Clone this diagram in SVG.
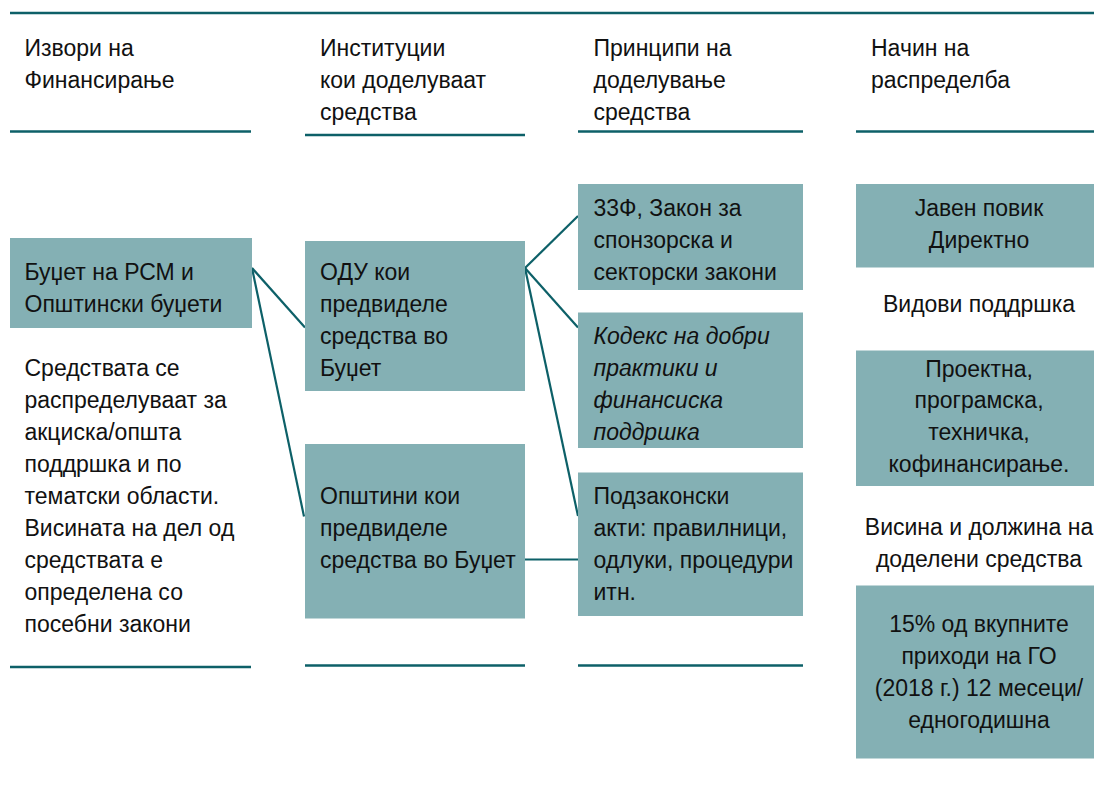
<svg xmlns="http://www.w3.org/2000/svg" width="1094" height="789" viewBox="0 0 1094 789">
<style>
  .rule { stroke: #0d6068; stroke-width: 2.5; fill: none; }
  .box { fill: #84b0b4; }
  .con { stroke: #0d6068; stroke-width: 2.2; fill: none; }
  text { font-family: "Liberation Sans", Arial, sans-serif; font-size: 23px; fill: #111; }
  .c { text-anchor: middle; }
  .i { font-style: italic; }
</style>
<rect width="1094" height="789" fill="#ffffff"/>
<g id="rules">
  <line class="rule" x1="10" y1="13" x2="1094" y2="13"/>
  <line class="rule" x1="10" y1="131.5" x2="251" y2="131.5"/>
  <line class="rule" x1="305" y1="135" x2="525" y2="135"/>
  <line class="rule" x1="578" y1="131.5" x2="803" y2="131.5"/>
  <line class="rule" x1="856" y1="131.5" x2="1094" y2="131.5"/>
  <line class="rule" x1="10" y1="667" x2="251" y2="667"/>
  <line class="rule" x1="305" y1="665.5" x2="525" y2="665.5"/>
  <line class="rule" x1="578" y1="665.5" x2="803" y2="665.5"/>
</g>
<g id="headers">
  <text x="24.5" y="56">Извори на</text>
  <text x="24.5" y="88">Финансирање</text>
  <text x="320" y="56">Институции</text>
  <text x="320" y="88">кои доделуваат</text>
  <text x="320" y="120">средства</text>
  <text x="593.5" y="56">Принципи на</text>
  <text x="593.5" y="88">доделување</text>
  <text x="593.5" y="120">средства</text>
  <text x="871" y="56">Начин на</text>
  <text x="871" y="88">распределба</text>
</g>
<g id="connectors">
  <line class="con" x1="252" y1="268" x2="305" y2="327.5"/>
  <line class="con" x1="252" y1="268" x2="304" y2="516.5"/>
  <line class="con" x1="525" y1="268" x2="578" y2="216"/>
  <line class="con" x1="525" y1="268" x2="578" y2="327.5"/>
  <line class="con" x1="525" y1="268" x2="578" y2="516"/>
  <line class="con" x1="525" y1="559.5" x2="578" y2="559.5"/>
</g>
<g id="budget">
  <rect class="box" x="10" y="238" width="242" height="90"/>
  <text x="24.5" y="280">Буџет на РСМ и</text>
  <text x="24.5" y="312">Општински буџети</text>
</g>
<g id="budget-note">
  <text x="24.5" y="376">Средствата се</text>
  <text x="24.5" y="408">распределуваат за</text>
  <text x="24.5" y="440">акциска/општа</text>
  <text x="24.5" y="472">поддршка и по</text>
  <text x="24.5" y="504">тематски области.</text>
  <text x="24.5" y="536">Висината на дел од</text>
  <text x="24.5" y="568">средствата е</text>
  <text x="24.5" y="600">определена со</text>
  <text x="24.5" y="632">посебни закони</text>
</g>
<g id="odu">
  <rect class="box" x="305" y="241" width="220" height="150"/>
  <text x="320" y="280">ОДУ кои</text>
  <text x="320" y="312">предвиделе</text>
  <text x="320" y="344">средства во</text>
  <text x="320" y="376">Буџет</text>
</g>
<g id="municipalities">
  <rect class="box" x="305" y="444" width="220" height="174.5"/>
  <text x="320" y="504">Општини кои</text>
  <text x="320" y="536">предвиделе</text>
  <text x="320" y="568">средства во Буџет</text>
</g>
<g id="laws">
  <rect class="box" x="578" y="184" width="225" height="106"/>
  <text x="593.5" y="216">33Ф, Закон за</text>
  <text x="593.5" y="248">спонзорска и</text>
  <text x="593.5" y="280">секторски закони</text>
</g>
<g id="codex">
  <rect class="box" x="578" y="312.5" width="225" height="135.5"/>
  <text class="i" x="593.5" y="343.5">Кодекс на добри</text>
  <text class="i" x="593.5" y="375.5">практики и</text>
  <text class="i" x="593.5" y="407.5">финансиска</text>
  <text class="i" x="593.5" y="439.5">поддршка</text>
</g>
<g id="bylaws">
  <rect class="box" x="578" y="472.5" width="225" height="143.5"/>
  <text x="593.5" y="504">Подзаконски</text>
  <text x="593.5" y="536">акти: правилници,</text>
  <text x="593.5" y="568">одлуки, процедури</text>
  <text x="593.5" y="600">итн.</text>
</g>
<g id="call">
  <rect class="box" x="856" y="184" width="246" height="83.5"/>
  <text class="c" x="979" y="216">Јавен повик</text>
  <text class="c" x="979" y="248">Директно</text>
</g>
<g id="support-label">
  <text class="c" x="979" y="312">Видови поддршка</text>
</g>
<g id="support">
  <rect class="box" x="856" y="350.5" width="246" height="135.5"/>
  <text class="c" x="979" y="376.5">Проектна,</text>
  <text class="c" x="979" y="408">програмска,</text>
  <text class="c" x="979" y="440">техничка,</text>
  <text class="c" x="979" y="472">кофинансирање.</text>
</g>
<g id="amount-label">
  <text class="c" x="979" y="535">Висина и должина на</text>
  <text class="c" x="979" y="567">доделени средства</text>
</g>
<g id="amount">
  <rect class="box" x="856" y="585.5" width="246" height="173"/>
  <text class="c" x="979" y="632">15% од вкупните</text>
  <text class="c" x="979" y="664">приходи на ГО</text>
  <text class="c" x="979" y="696">(2018 г.) 12 месеци/</text>
  <text class="c" x="979" y="727.5">едногодишна</text>
</g>
</svg>
